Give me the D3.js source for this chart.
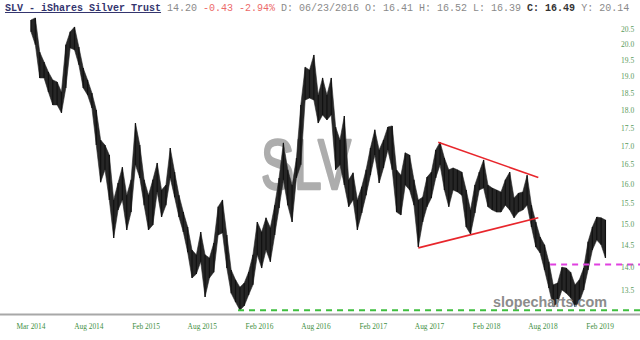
<!DOCTYPE html>
<html><head><meta charset="utf-8">
<script src="https://cdn.jsdelivr.net/npm/d3@7"></script>
<style>html,body{margin:0;padding:0;background:#fff;overflow:hidden}text{white-space:pre}</style>
</head><body>
<svg id="chart" width="640" height="340"></svg>
<script>
// ---- data ----
const startDate = "2014-01-27";      // first biweekly sample
const stepDays = 14;
const highs = [20.80,20.87,19.76,19.45,19.14,18.90,18.84,18.54,19.99,20.41,20.57,19.92,19.26,18.90,18.51,18.01,17.17,17.03,16.76,15.60,
16.03,16.44,15.72,16.11,17.64,17.03,16.11,15.72,16.11,16.55,15.85,15.98,16.95,16.31,15.72,15.30,14.94,14.40,14.29,14.82,
14.29,14.22,14.56,15.43,15.60,14.75,13.95,13.73,13.57,13.66,13.90,14.29,15.06,14.82,15.16,14.92,15.47,16.16,17.09,16.37,
15.98,16.68,18.16,19.29,19.20,19.67,18.45,18.96,18.45,18.96,17.53,17.17,17.84,16.11,16.29,15.60,15.93,16.37,16.95,17.45,
16.90,17.17,17.53,17.56,16.37,16.23,16.82,16.76,16.11,15.60,15.67,16.18,16.31,16.90,17.11,16.68,16.37,16.42,16.37,16.31,
15.85,15.35,15.98,16.31,16.63,15.98,15.90,15.85,15.80,16.11,16.31,15.65,15.77,15.80,16.23,15.47,15.06,14.70,14.52,14.13,
13.62,13.66,14.01,13.99,13.90,13.62,13.73,13.99,14.59,14.94,15.18,15.16,15.11];
const lows = [20.41,19.99,18.96,18.96,18.54,18.16,18.16,17.93,18.66,19.89,19.83,19.36,18.66,18.45,18.07,17.03,16.05,16.37,15.60,14.68,
15.35,15.60,14.87,15.30,16.50,16.16,15.47,14.87,14.99,15.80,15.18,15.47,16.16,15.67,15.18,14.82,14.35,13.77,13.86,14.13,
13.36,13.77,13.90,14.75,14.80,13.99,13.44,13.25,13.08,13.17,13.40,13.62,14.29,13.99,14.40,14.13,14.75,15.40,16.11,15.47,
15.06,16.16,16.50,18.30,18.36,18.30,17.64,17.87,17.73,17.87,16.37,16.50,15.98,15.43,15.60,14.87,15.28,15.72,16.23,16.76,
16.03,16.42,16.90,16.37,15.30,15.23,15.98,15.85,15.47,14.47,15.06,15.43,15.65,16.16,16.50,15.85,15.43,15.85,15.80,15.72,
14.94,14.77,15.28,15.85,15.90,15.43,15.35,15.30,15.30,15.47,15.35,15.16,15.30,15.35,15.47,14.94,14.47,14.33,13.95,13.55,
13.15,13.23,13.51,13.44,13.34,13.15,13.25,13.51,13.95,14.40,14.63,14.52,14.22];

const yTicks = [13.5,14.0,14.5,15.0,15.5,16.0,16.5,17.0,17.5,18.0,18.5,19.0,19.5,20.0,20.5];
const xTickDates = ["2014-01-27","2014-08-01","2015-02-01","2015-08-01","2016-02-01","2016-08-01","2017-02-01","2017-08-01","2018-02-01","2018-08-01","2019-02-01"];
const xTickLabels = ["Mar 2014","Aug 2014","Feb 2015","Aug 2015","Feb 2016","Aug 2016","Feb 2017","Aug 2017","Feb 2018","Aug 2018","Feb 2019"];

const trendUpper = [["2017-08-29",17.11],["2018-07-17",16.17]];
const trendLower = [["2017-06-26",14.45],["2018-07-17",15.16]];
const supportGreen = ["2015-11-24",13.08];
const supportMagenta = ["2018-08-24",14.07];

const header = [
  {t:"SLV - iShares Silver Trust", c:"#34356e", w:"bold", u:true},
  {t:" 14.20", c:"#8a8a8a"},
  {t:" -0.43 -2.94%", c:"#ec6a6a"},
  {t:" D: 06/23/2016 O: 16.41 H: 16.52 L: 16.39", c:"#8a8a8a"},
  {t:" C: 16.49", c:"#333", w:"bold"},
  {t:" Y: 20.14", c:"#8a8a8a"}
];

// ---- drawing ----
const W = 640, H = 340;
const svg = d3.select("#chart");
const parse = d3.timeParse("%Y-%m-%d");
const t0 = parse(startDate);
const dates = highs.map((_, i) => d3.timeDay.offset(t0, i * stepDays));

const x = d3.scaleTime().domain([parse("2014-01-27"), parse("2019-02-23")]).range([31, 607]);
const y = d3.scaleLog().domain([13, 21]).range([314, 14]);

// watermark
svg.append("text").attr("x", 261).attr("y", 189)
  .attr("font-family", "Liberation Sans, Arial, sans-serif").attr("font-size", 70)
  .attr("textLength", 90).attr("lengthAdjust", "spacingAndGlyphs")
  .attr("fill", "#adadad").attr("stroke", "#adadad").attr("stroke-width", 2.6)
  .attr("stroke-linejoin", "round").text("SLV");

// bottom axis line
svg.append("line").attr("x1", 0).attr("x2", W).attr("y1", 314.5).attr("y2", 314.5)
  .attr("stroke", "#a8a8a8").attr("stroke-width", 2);

// price ribbon
const data = dates.map((d, i) => ({d, h: highs[i], l: lows[i]}));
svg.append("path").datum(data)
  .attr("d", d3.area().x(p => x(p.d)).y0(p => y(p.l)).y1(p => y(p.h)))
  .attr("fill", "#262626").attr("stroke", "#262626").attr("stroke-width", 0.6).attr("stroke-linejoin", "round");
svg.append("g").selectAll("line").data(data).join("line")
  .attr("x1", p => x(p.d)).attr("x2", p => x(p.d))
  .attr("y1", p => y(p.h)).attr("y2", p => y(p.l))
  .attr("stroke", "#111").attr("stroke-width", 1.2);

// trend lines
[trendUpper, trendLower].forEach(seg => {
  svg.append("line")
    .attr("x1", x(parse(seg[0][0]))).attr("y1", y(seg[0][1]))
    .attr("x2", x(parse(seg[1][0]))).attr("y2", y(seg[1][1]))
    .attr("stroke", "#e8262c").attr("stroke-width", 1.6);
});

// dashed support lines
svg.append("line").attr("x1", x(parse(supportGreen[0]))).attr("x2", W)
  .attr("y1", y(supportGreen[1])).attr("y2", y(supportGreen[1]))
  .attr("stroke", "#3fbf3f").attr("stroke-width", 2).attr("stroke-dasharray", "6,5");
svg.append("line").attr("x1", x(parse(supportMagenta[0]))).attr("x2", W)
  .attr("y1", y(supportMagenta[1])).attr("y2", y(supportMagenta[1]))
  .attr("stroke", "#e040e0").attr("stroke-width", 2).attr("stroke-dasharray", "6,5");

// y tick labels
svg.append("g").selectAll("text").data(yTicks).join("text")
  .attr("x", 621).attr("y", v => y(v) + 2.5)
  .attr("font-family", "Liberation Serif, Times New Roman, serif").attr("font-size", 7.5)
  .attr("fill", "#5a9a5a").text(v => v.toFixed(1));

// x tick labels
svg.append("g").selectAll("text").data(xTickDates).join("text")
  .attr("x", d => x(parse(d))).attr("y", 329).attr("text-anchor", "middle")
  .attr("font-family", "Liberation Serif, Times New Roman, serif").attr("font-size", 7.4)
  .attr("fill", "#3f8f3f").text((d, i) => xTickLabels[i]);

// site mark
svg.append("text").attr("x", 493).attr("y", 307)
  .attr("font-family", "Liberation Sans, Arial, sans-serif").attr("font-weight", "bold").attr("font-size", 14.5)
  .attr("textLength", 114).attr("lengthAdjust", "spacingAndGlyphs")
  .attr("fill", "#8c8c8c").text("slopecharts.com");

// header
const ht = svg.append("text").attr("x", 5).attr("y", 11)
  .attr("font-family", "Liberation Mono, Courier New, monospace").attr("font-size", 10);
header.forEach(h => {
  const s = ht.append("tspan").attr("fill", h.c).text(h.t);
  if (h.w) s.attr("font-weight", h.w);
  if (h.u) s.attr("text-decoration", "underline");
});
</script>
</body></html>
